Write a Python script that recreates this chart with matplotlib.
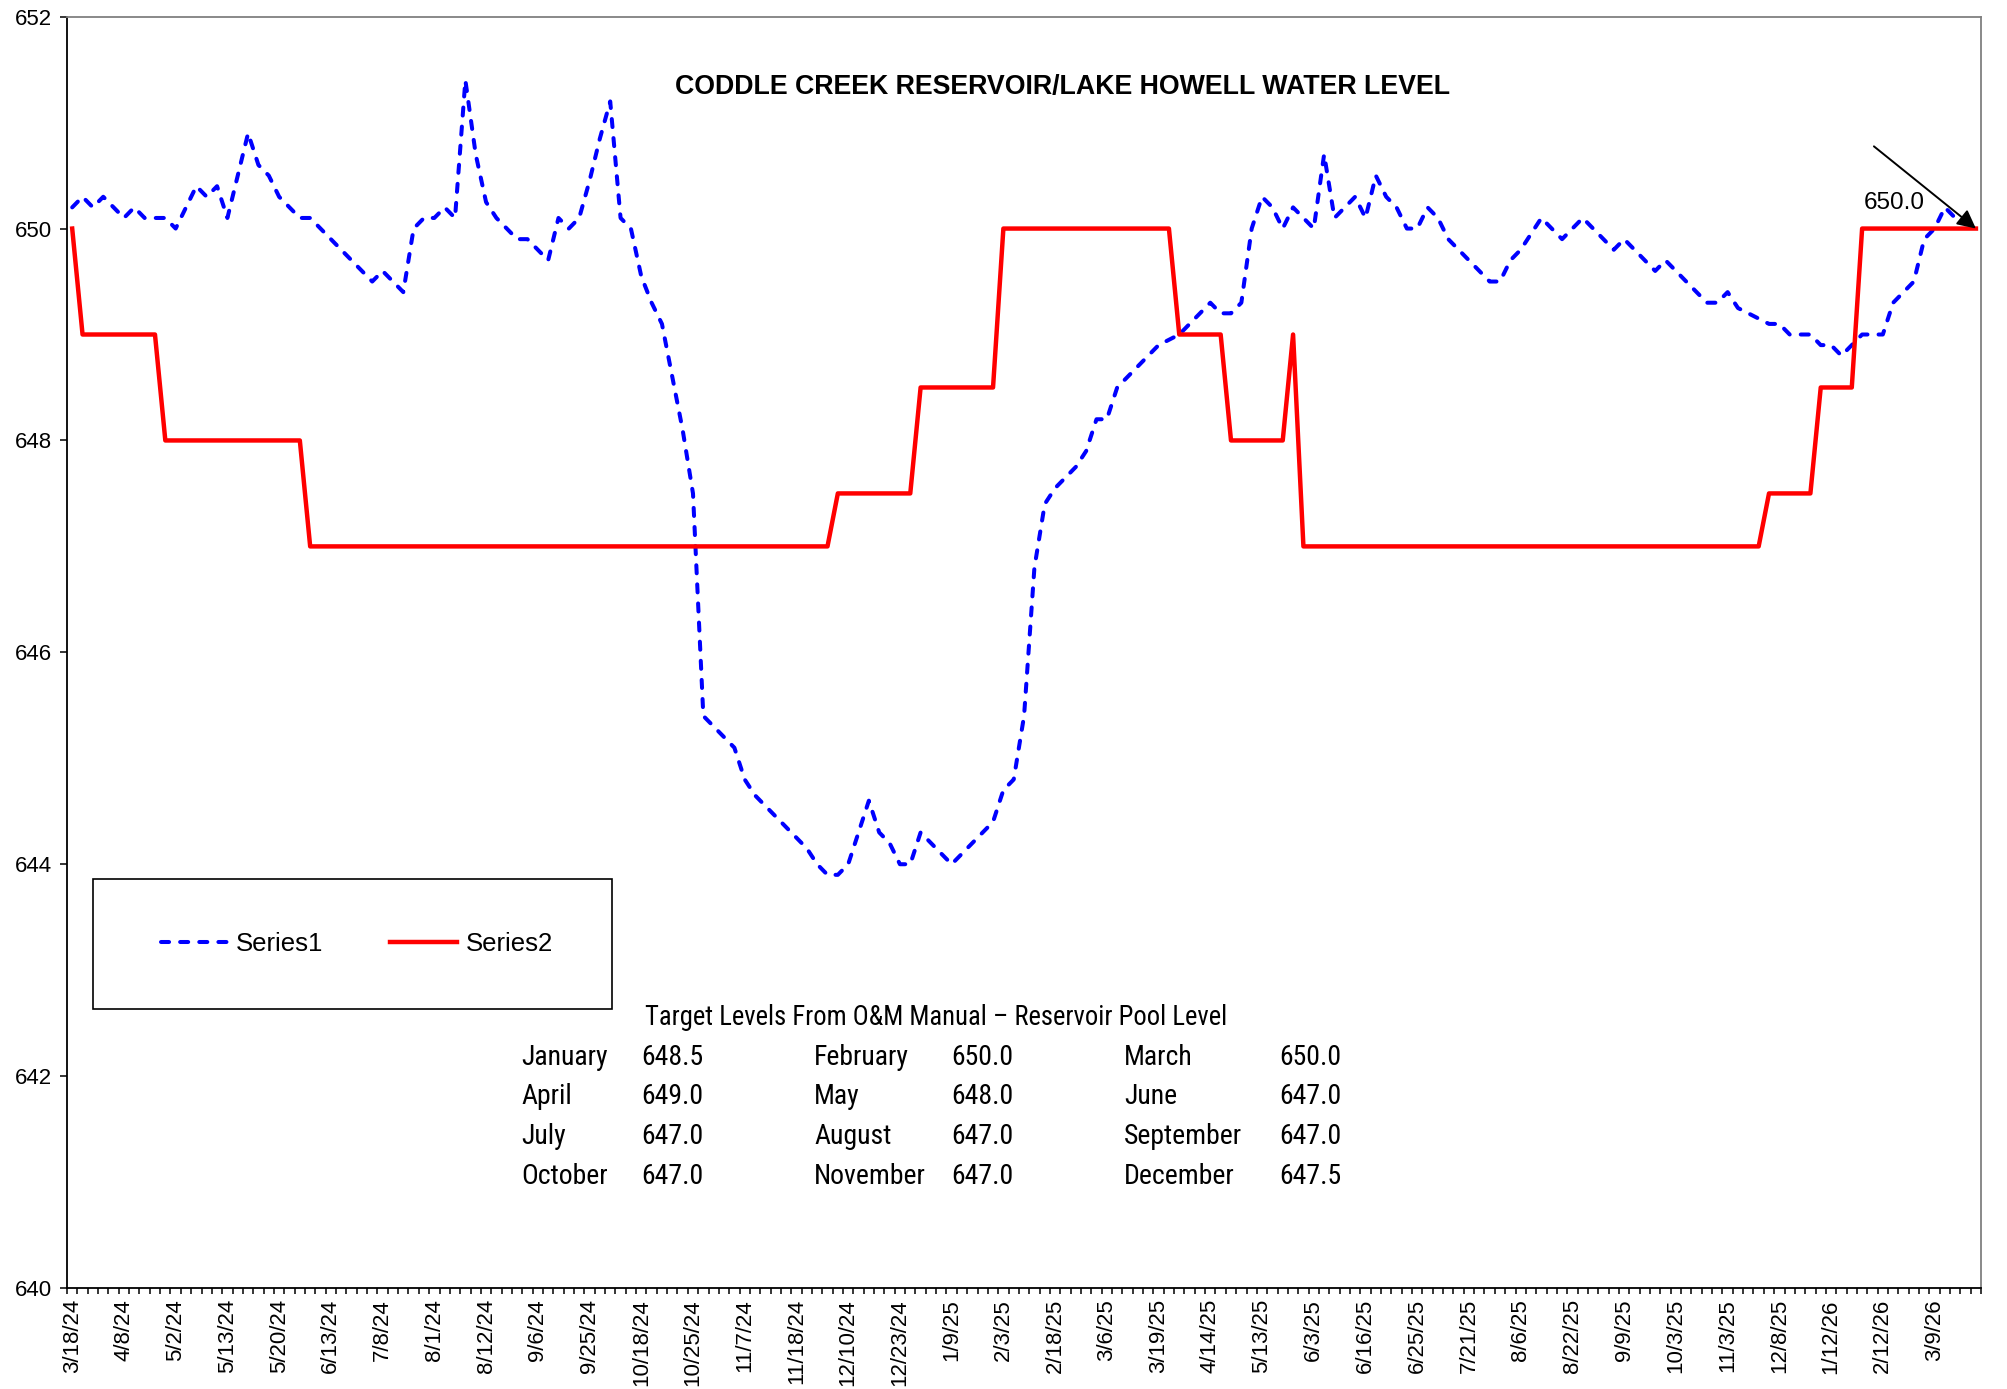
import numpy as np
import matplotlib
matplotlib.use("Agg")
import matplotlib.pyplot as plt
from matplotlib import font_manager as fm
from matplotlib.patches import Rectangle

plt.rcParams["font.family"] = ["Liberation Sans", "DejaVu Sans"]

# --- data (one value per category) ---
level = [
    650.2, 650.3, 650.2, 650.3, 650.2, 650.1, 650.2, 650.1, 650.1, 650.1,
    650.0, 650.2, 650.4, 650.3, 650.4, 650.1, 650.5, 650.9, 650.6, 650.5,
    650.3, 650.2, 650.1, 650.1, 650.0, 649.9, 649.8, 649.7, 649.6, 649.5,
    649.6, 649.5, 649.4, 650.0, 650.1, 650.1, 650.2, 650.1, 651.4, 650.7,
    650.25, 650.1, 650.0, 649.9, 649.9, 649.8, 649.7, 650.1, 650.0, 650.1,
    650.45, 650.85, 651.2, 650.1, 650.0, 649.55, 649.3, 649.1, 648.6, 648.1,
    647.5, 645.4, 645.3, 645.2, 645.1, 644.8, 644.65, 644.55, 644.45, 644.35,
    644.25, 644.15, 644.0, 643.9, 643.9, 644.0, 644.3, 644.6, 644.3, 644.2,
    644.0, 644.0, 644.3, 644.2, 644.1, 644.0, 644.1, 644.2, 644.3, 644.4,
    644.7, 644.8, 645.4, 646.8, 647.4, 647.55, 647.65, 647.75, 647.9, 648.2,
    648.2, 648.5, 648.6, 648.7, 648.8, 648.9, 648.95, 649.0, 649.1, 649.2,
    649.3, 649.2, 649.2, 649.3, 650.0, 650.3, 650.2, 650.0, 650.2, 650.1,
    650.0, 650.7, 650.1, 650.2, 650.3, 650.1, 650.5, 650.3, 650.2, 650.0,
    650.0, 650.2, 650.1, 649.9, 649.8, 649.7, 649.6, 649.5, 649.5, 649.7,
    649.8, 649.95, 650.1, 650.0, 649.9, 650.0, 650.1, 650.0, 649.9, 649.8,
    649.9, 649.8, 649.7, 649.6, 649.7, 649.6, 649.5, 649.4, 649.3, 649.3,
    649.4, 649.25, 649.2, 649.15, 649.1, 649.1, 649.0, 649.0, 649.0, 648.9,
    648.9, 648.8, 648.9, 649.0, 649.0, 649.0, 649.3, 649.4, 649.5, 649.9,
    650.0, 650.2, 650.1, 650.1, 650.0,
]

target = [
    650.0, 649.0, 649.0, 649.0, 649.0, 649.0, 649.0, 649.0, 649.0, 648.0,
    648.0, 648.0, 648.0, 648.0, 648.0, 648.0, 648.0, 648.0, 648.0, 648.0,
    648.0, 648.0, 648.0, 647.0, 647.0, 647.0, 647.0, 647.0, 647.0, 647.0,
    647.0, 647.0, 647.0, 647.0, 647.0, 647.0, 647.0, 647.0, 647.0, 647.0,
    647.0, 647.0, 647.0, 647.0, 647.0, 647.0, 647.0, 647.0, 647.0, 647.0,
    647.0, 647.0, 647.0, 647.0, 647.0, 647.0, 647.0, 647.0, 647.0, 647.0,
    647.0, 647.0, 647.0, 647.0, 647.0, 647.0, 647.0, 647.0, 647.0, 647.0,
    647.0, 647.0, 647.0, 647.0, 647.5, 647.5, 647.5, 647.5, 647.5, 647.5,
    647.5, 647.5, 648.5, 648.5, 648.5, 648.5, 648.5, 648.5, 648.5, 648.5,
    650.0, 650.0, 650.0, 650.0, 650.0, 650.0, 650.0, 650.0, 650.0, 650.0,
    650.0, 650.0, 650.0, 650.0, 650.0, 650.0, 650.0, 649.0, 649.0, 649.0,
    649.0, 649.0, 648.0, 648.0, 648.0, 648.0, 648.0, 648.0, 649.0, 647.0,
    647.0, 647.0, 647.0, 647.0, 647.0, 647.0, 647.0, 647.0, 647.0, 647.0,
    647.0, 647.0, 647.0, 647.0, 647.0, 647.0, 647.0, 647.0, 647.0, 647.0,
    647.0, 647.0, 647.0, 647.0, 647.0, 647.0, 647.0, 647.0, 647.0, 647.0,
    647.0, 647.0, 647.0, 647.0, 647.0, 647.0, 647.0, 647.0, 647.0, 647.0,
    647.0, 647.0, 647.0, 647.0, 647.5, 647.5, 647.5, 647.5, 647.5, 648.5,
    648.5, 648.5, 648.5, 650.0, 650.0, 650.0, 650.0, 650.0, 650.0, 650.0,
    650.0, 650.0, 650.0, 650.0, 650.0,
]

# every 5th category is labelled
date_labels = [
    "3/18/24", "4/8/24", "5/2/24", "5/13/24", "5/20/24", "6/13/24", "7/8/24",
    "8/1/24", "8/12/24", "9/6/24", "9/25/24", "10/18/24", "10/25/24", "11/7/24",
    "11/18/24", "12/10/24", "12/23/24", "1/9/25", "2/3/25", "2/18/25", "3/6/25",
    "3/19/25", "4/14/25", "5/13/25", "6/3/25", "6/16/25", "6/25/25", "7/21/25",
    "8/6/25", "8/22/25", "9/9/25", "10/3/25", "11/3/25", "12/8/25", "1/12/26",
    "2/12/26", "3/9/26",
]

months_col1 = ["January", "April", "July", "October"]
values_col1 = ["648.5", "649.0", "647.0", "647.0"]
months_col2 = ["February", "May", "August", "November"]
values_col2 = ["650.0", "648.0", "647.0", "647.0"]
months_col3 = ["March", "June", "September", "December"]
values_col3 = ["650.0", "647.0", "647.0", "647.5"]

# narrow face for the target table, if one is installed
names = {f.name for f in fm.fontManager.ttflist}
narrow = next((n for n in ["Liberation Sans Narrow", "Roboto Condensed",
                           "Open Sans Condensed"] if n in names), "Liberation Sans")

fig = plt.figure(figsize=(20.07, 13.89), dpi=100)
ax = fig.add_axes([0.0334, 0.0727, 0.9537, 0.9153])

x = np.arange(len(level))
ax.plot(x, level, color="blue", lw=2.9, ls=(0, (2.0, 2.75)),
        dash_capstyle="round", label="Series1")
ax.plot(x, target, color="red", lw=3.2, label="Series2")

ax.set_xlim(-0.5, len(level) - 0.5)
ax.set_ylim(640, 652)
ax.set_yticks(range(640, 653, 2))
ax.set_xticks(x[::5])
ax.set_xticklabels(date_labels, rotation=90, fontsize=16)
ax.set_xticks(np.arange(len(level) + 1) - 0.5, minor=True)
ax.tick_params(axis="x", which="major", length=0, pad=8)
ax.tick_params(axis="x", which="minor", length=4.5, width=1.1, direction="out")
ax.tick_params(axis="y", length=5, width=1.1, labelsize=16, pad=6)

for s in ["left", "bottom"]:
    ax.spines[s].set_color("black")
    ax.spines[s].set_linewidth(1.3)
for s in ["top", "right"]:
    ax.spines[s].set_color("#808080")
    ax.spines[s].set_linewidth(1.3)

ax.text(0.520, 0.9446, "CODDLE CREEK RESERVOIR/LAKE HOWELL WATER LEVEL",
        transform=ax.transAxes, ha="center", va="center",
        fontsize=19.3, fontweight="bold")

# arrow + label on the last point
ax.annotate("", xy=(x[-1], target[-1]), xytext=(0.944, 0.898),
            textcoords="axes fraction",
            arrowprops=dict(arrowstyle="-|>", color="black", lw=1.4,
                            mutation_scale=28, shrinkA=0, shrinkB=0))
ax.text(0.9545, 0.8535, "650.0", transform=ax.transAxes, ha="center",
        va="center", fontsize=17.5)

# legend in a plain box
ax.add_patch(Rectangle((0.0136, 0.2194), 0.2712, 0.1023, transform=ax.transAxes,
                       fill=False, edgecolor="black", lw=1.2))
ax.legend(loc="center", bbox_to_anchor=(0.1515, 0.2705), frameon=False, ncol=2,
          fontsize=18.5, handlelength=2.6, handletextpad=0.35, columnspacing=2.6)

# target levels table
ax.text(0.454, 0.2127, "Target Levels From O&M Manual \u2013 Reservoir Pool Level",
        transform=ax.transAxes, ha="center", va="center", fontsize=19.2, family=narrow)
row_y = [0.1813, 0.1506, 0.1191, 0.0877]
columns = [(0.2372, months_col1), (0.2999, values_col1), (0.3903, months_col2),
           (0.4619, values_col2), (0.5522, months_col3), (0.6332, values_col3)]
for cx, col in columns:
    for cy, txt in zip(row_y, col):
        ax.text(cx, cy, txt, transform=ax.transAxes, ha="left", va="center",
                fontsize=20, family=narrow)

fig.savefig("out.png", dpi=100)
